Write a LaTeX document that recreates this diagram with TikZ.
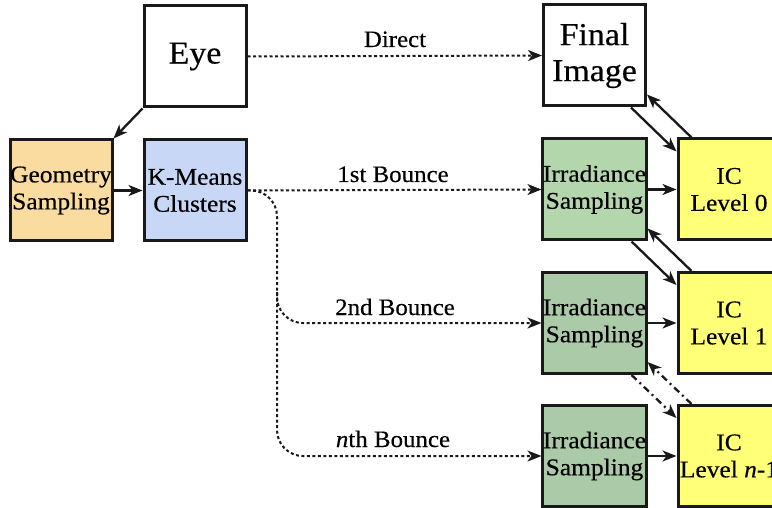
\documentclass[tikz,border=0pt]{standalone}
\usepackage{fontspec}
\setmainfont{Liberation Serif}[FakeStretch=1.06,FakeBold=0.4]
\usetikzlibrary{arrows.meta,calc}
\definecolor{geoC}{RGB}{250,220,160}
\definecolor{kmC}{RGB}{200,215,245}
\definecolor{irrA}{RGB}{180,214,172}
\definecolor{irrB}{RGB}{170,202,168}
\definecolor{icC}{RGB}{255,255,120}
\definecolor{edge}{RGB}{25,25,25}
\tikzset{
  box/.style={draw=edge, line width=3pt, minimum width=102pt, minimum height=101pt,
    inner sep=0pt, align=center, font=\fontsize{24}{27}\selectfont},
  bigbox/.style={box, fill=white, font=\fontsize{32}{36}\selectfont},
  lbl/.style={anchor=base, font=\fontsize{23.5}{27}\selectfont},
  tip/.style={-{Stealth[length=14pt,width=11pt,inset=4pt]}},
  arr/.style={tip, line width=2.3pt, draw=edge},
  dotline/.style={tip, line width=2pt, draw=edge, dash pattern=on 3pt off 2.5pt},
  dashdot/.style={tip, line width=2.3pt, draw=edge, dash pattern=on 7pt off 4pt on 2pt off 4pt}
}
\begin{document}
\begin{tikzpicture}[x=1pt,y=-1pt]
\useasboundingbox (0,0) rectangle (772,508);
% nodes
\node[bigbox] (eye) at (195,56.5) {Eye};
\node[box, fill=geoC] (geo) at (61,190.5) {Geometry\\Sampling};
\node[box, fill=kmC] (km) at (195,190.5) {K-Means\\Clusters};
\node[bigbox] (fin) at (594.5,55.5) {Final\\Image};
\node[box, fill=irrA] (irr1) at (594.5,189.5) {Irradiance\\Sampling};
\node[box, fill=irrB] (irr2) at (594.5,323) {Irradiance\\Sampling};
\node[box, fill=irrB] (irr3) at (594.5,456) {Irradiance\\Sampling};
\node[box, fill=icC] (ic0) at (729,189.5) {IC\\Level 0};
\node[box, fill=icC] (ic1) at (729,323) {IC\\Level 1};
\node[box, fill=icC] (icn) at (729,456) {IC\\Level \textit{n}-1};
% labels
\node[lbl] (l0) at (395,47) {Direct};
\node[lbl] (l1) at (393,182) {1st Bounce};
\node[lbl] (l2) at (395,315) {2nd Bounce};
\node[lbl] (l3) at (393,447) {\textit{n}th Bounce};
% solid arrows
\draw[arr] (eye.south west) -- (geo.north east);
\draw[arr] (geo.east) -- (km.west);
\draw[arr] (irr1.east) -- (ic0.west);
\draw[arr] (irr2.east) -- (ic1.west);
\draw[arr] (irr3.east) -- (icn.west);
% dotted flows
\coordinate (br) at (277,190.5);
\coordinate (br2) at (277,292);
\draw[dotline] (eye.east) -- (fin.west);
\draw[dotline] (km.east) -- (irr1.west);
\draw[dotline, rounded corners=26pt] (km.east) -- (br) -- (br |- irr3.west) -- (irr3.west);
\draw[dotline, rounded corners=26pt] (br2) -- (br2 |- irr2.west) -- (irr2.west);
% diagonal arrows
\draw[arr] ($(fin.south east)+(-16,0)$) -- ($(ic0.north west)+(0,14)$);
\draw[arr] ($(ic0.north west)+(15,0)$) -- ($(fin.south east)+(0,-13)$);
\draw[arr] ($(irr1.south east)+(-16,0)$) -- ($(ic1.north west)+(0,14)$);
\draw[arr] ($(ic1.north west)+(15,0)$) -- ($(irr1.south east)+(0,-13)$);
\draw[dashdot] ($(irr2.south east)+(-16,0)$) -- ($(icn.north west)+(0,14)$);
\draw[dashdot] ($(icn.north west)+(15,0)$) -- ($(irr2.south east)+(0,-13)$);
\end{tikzpicture}
\end{document}
